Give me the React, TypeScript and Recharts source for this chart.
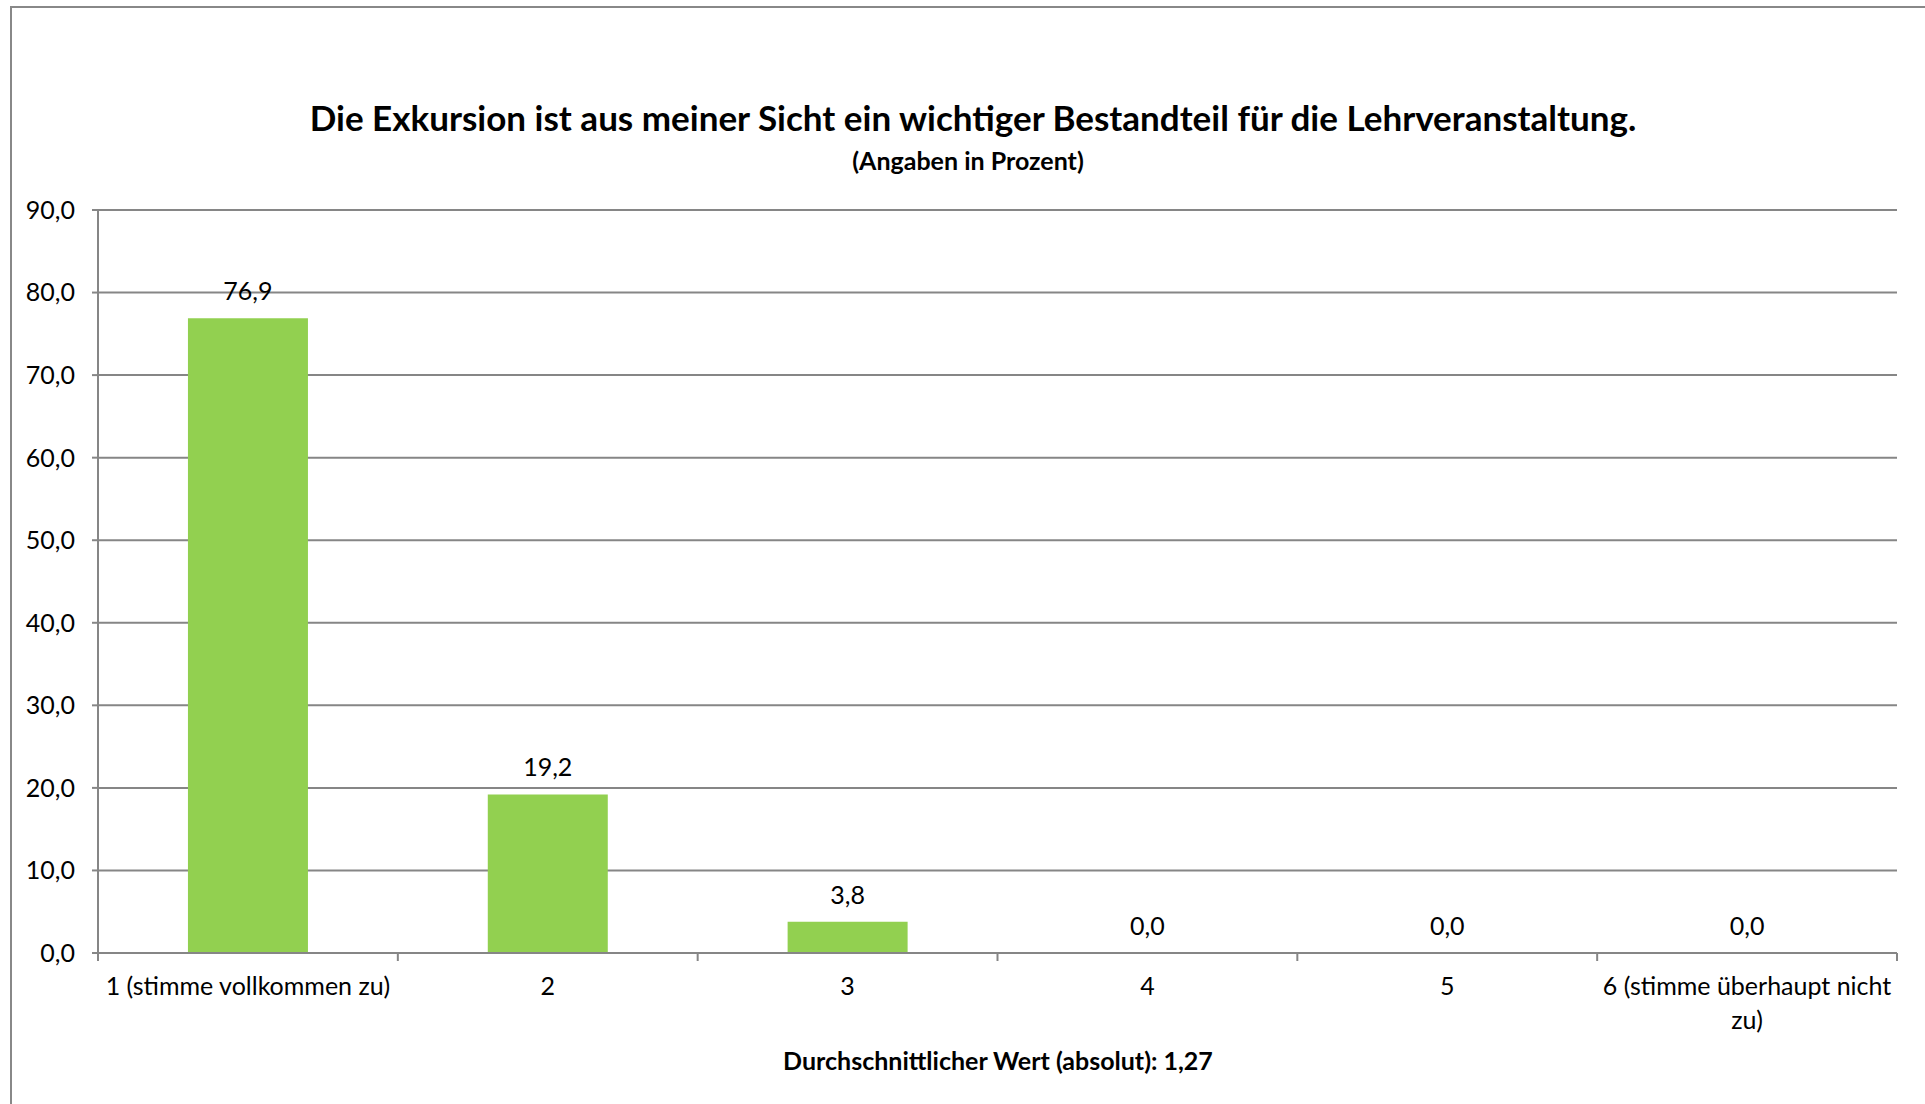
import React from "react";
import {
  ComposedChart,
  Bar,
  Line,
  XAxis,
  YAxis,
  CartesianGrid,
  LabelList,
} from "recharts";

const categories = [
  "1 (stimme vollkommen zu)",
  "2",
  "3",
  "4",
  "5",
  "6 (stimme überhaupt nicht zu)",
];
const percentages = [76.9, 19.2, 3.8, 0.0, 0.0, 0.0];
const yTicks = [0, 10, 20, 30, 40, 50, 60, 70, 80, 90];

const chartTitle =
  "Die Exkursion ist aus meiner Sicht ein wichtiger Bestandteil für die Lehrveranstaltung.";
const chartSubtitle = "(Angaben in Prozent)";
const axisTitle = "Durchschnittlicher Wert (absolut): 1,27";

const data = categories.map((name, i) => ({ name, value: percentages[i] }));

const W = 1925;
const H = 1104;
const FONT = "Lato, 'Open Sans', sans-serif";
const GRID = "#868686";
const BAR = "#92D050";

const margin = { top: 210, right: 28, left: 0, bottom: 0 };
const yAxisWidth = 98;
const xAxisHeight = 151;
const band = (W - margin.right - yAxisWidth) / categories.length;

const fmt = (v: number) => v.toFixed(1).replace(".", ",");

// split long tick labels into lines of max ~26 characters
const wrap = (text: string, max = 26) => {
  const words = text.split(" ");
  const lines: string[] = [];
  let cur = "";
  words.forEach((w) => {
    const next = cur ? cur + " " + w : w;
    if (next.length > max && cur) {
      lines.push(cur);
      cur = w;
    } else {
      cur = next;
    }
  });
  if (cur) lines.push(cur);
  return lines;
};

const XTick = (props: any) => {
  const { x, y, payload, index } = props;
  const half = band / 2;
  const lines = wrap(String(payload.value));
  const isLast = index === categories.length - 1;
  return (
    <g>
      <line x1={x - half} x2={x - half} y1={y} y2={y + 8} stroke={GRID} strokeWidth={2} />
      {isLast && (
        <line x1={x + half} x2={x + half} y1={y} y2={y + 8} stroke={GRID} strokeWidth={2} />
      )}
      <text
        x={x}
        y={y + 32}
        textAnchor="middle"
        dominantBaseline="central"
        fill="#000"
        fontSize={25}
        fontFamily={FONT}
      >
        {lines.map((l, i) => (
          <tspan key={i} x={x} dy={i === 0 ? 0 : 34}>
            {l}
          </tspan>
        ))}
      </text>
    </g>
  );
};

const textStyle = (cx: number, cy: number, size: number): React.CSSProperties => ({
  position: "absolute",
  left: cx,
  top: cy,
  transform: "translate(-50%, -50%)",
  whiteSpace: "nowrap",
  fontSize: size,
  lineHeight: 1,
  fontWeight: 700,
  color: "#000",
});

const App: React.FC = () => {
  return (
    <div
      style={{
        position: "absolute",
        left: 0,
        top: 0,
        width: W,
        height: H,
        background: "#fff",
        overflow: "hidden",
        fontFamily: FONT,
      }}
    >
      <div
        style={{
          position: "absolute",
          left: 10,
          top: 6,
          width: W,
          height: H,
          borderLeft: "2px solid #888",
          borderTop: "2px solid #888",
        }}
      />
      <div style={textStyle(973, 117, 35)}>{chartTitle}</div>
      <div style={textStyle(968, 160, 25)}>{chartSubtitle}</div>
      <div style={textStyle(998, 1060, 25)}>{axisTitle}</div>
      <div style={{ position: "absolute", left: 0, top: 0 }}>
        <ComposedChart
          width={W}
          height={H}
          data={data}
          margin={margin}
          barCategoryGap="30%"
        >
          <CartesianGrid vertical={false} stroke={GRID} strokeWidth={2} />
          <XAxis
            dataKey="name"
            height={xAxisHeight}
            interval={0}
            axisLine={{ stroke: GRID, strokeWidth: 2 }}
            tickLine={false}
            tickSize={0}
            tickMargin={0}
            tick={<XTick />}
          />
          <YAxis
            width={yAxisWidth}
            domain={[0, 90]}
            ticks={yTicks}
            interval={0}
            tickFormatter={fmt}
            axisLine={{ stroke: GRID, strokeWidth: 2 }}
            tickLine={{ stroke: GRID, strokeWidth: 2 }}
            tickSize={6}
            tickMargin={17}
            tick={{ fill: "#000", fontSize: 25, fontFamily: FONT }}
          />
          <Bar dataKey="value" fill={BAR} isAnimationActive={false} />
          {/* invisible line only to carry the value labels, incl. the 0,0 ones */}
          <Line
            dataKey="value"
            stroke="none"
            dot={false}
            activeDot={false}
            isAnimationActive={false}
          >
            <LabelList
              dataKey="value"
              position="top"
              offset={18}
              formatter={(v: any) => fmt(Number(v))}
              fill="#000"
              fontSize={25}
              fontFamily={FONT}
            />
          </Line>
        </ComposedChart>
      </div>
    </div>
  );
};

export default App;
